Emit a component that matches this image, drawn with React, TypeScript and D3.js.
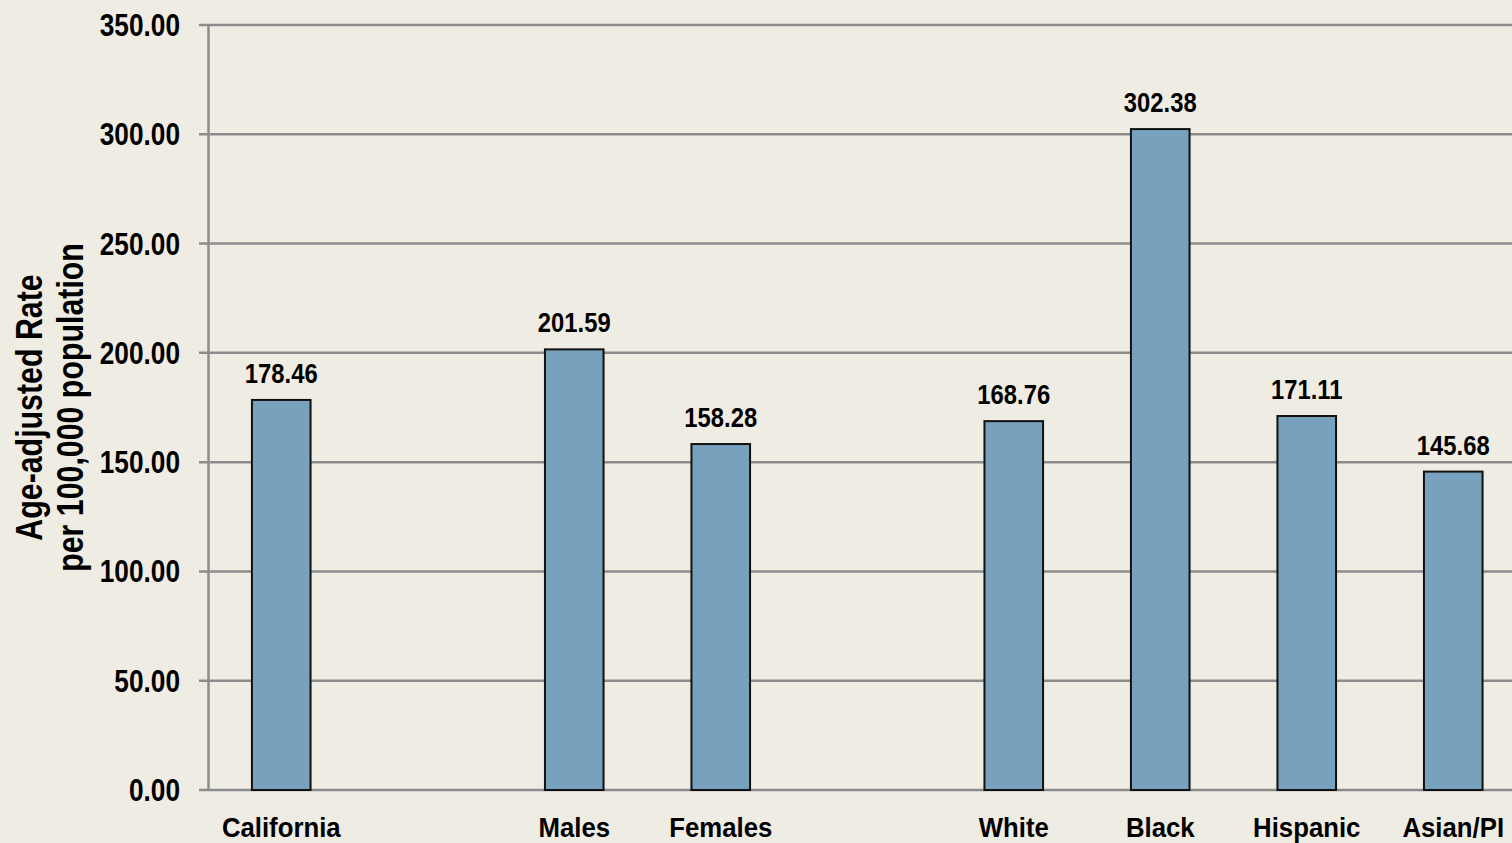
import React from "react";
import * as d3 from "d3";

const categories = ["California", "", "Males", "Females", " ", "White", "Black", "Hispanic", "Asian/PI"];
const values: (number | null)[] = [178.46, null, 201.59, 158.28, null, 168.76, 302.38, 171.11, 145.68];
const yTicks = [0, 50, 100, 150, 200, 250, 300, 350];
const yTitle = ["Age-adjusted Rate", "per 100,000 population"];

const W = 1512;
const H = 843;
const FONT = "'Liberation Sans', Arial, sans-serif";

function NText(props: { x: number; y: number; sx: number; size: number; anchor: string; rotate?: number; children: React.ReactNode }) {
  const { x, y, sx, size, anchor, rotate, children } = props;
  const t = `translate(${x},${y})${rotate ? ` rotate(${rotate})` : ""} scale(${sx},1)`;
  return (
    <text transform={t} textAnchor={anchor} fontSize={size} fill="#000">
      {children}
    </text>
  );
}

export default function App() {
  const x = d3.scaleBand<string>().domain(categories).range([208, 208 + 9 * 146.5]).paddingInner(0.6).paddingOuter(0.3);
  const y = d3.scaleLinear().domain([0, 350]).range([790, 25]);
  const fmt = d3.format(".2f");
  const midY = (y(0) + y(350)) / 2;
  return (
    <svg width={W} height={H} style={{ position: "absolute", left: 0, top: 0 }} fontFamily={FONT} fontWeight="bold">
      <rect x={0} y={0} width={W} height={H} fill="#EFECE4" />
      {yTicks.map((t) => (
        <g key={t}>
          <line x1={199} x2={W} y1={y(t)} y2={y(t)} stroke="#8C8C8C" strokeWidth={2.5} />
          <NText x={180} y={y(t) + 11} sx={0.82} size={32} anchor="end">
            {fmt(t)}
          </NText>
        </g>
      ))}
      <line x1={208.5} x2={208.5} y1={y(350)} y2={y(0)} stroke="#8C8C8C" strokeWidth={2.5} />
      {categories.map((c, i) => {
        const v = values[i];
        const bx = x(c)!;
        const bw = x.bandwidth();
        return (
          <g key={i}>
            {v !== null && (
              <>
                <rect x={bx} y={y(v)} width={bw} height={y(0) - y(v)} fill="#77A1BC" stroke="#111" strokeWidth={2} />
                <NText x={bx + bw / 2} y={y(v) - 17} sx={0.85} size={28} anchor="middle">
                  {fmt(v)}
                </NText>
              </>
            )}
            <NText x={bx + bw / 2} y={837} sx={0.92} size={28} anchor="middle">
              {c.trim()}
            </NText>
          </g>
        );
      })}
      <NText x={42} y={midY} sx={0.82} size={37} anchor="middle" rotate={-90}>
        {yTitle[0]}
      </NText>
      <NText x={83} y={midY} sx={0.82} size={37} anchor="middle" rotate={-90}>
        {yTitle[1]}
      </NText>
    </svg>
  );
}
